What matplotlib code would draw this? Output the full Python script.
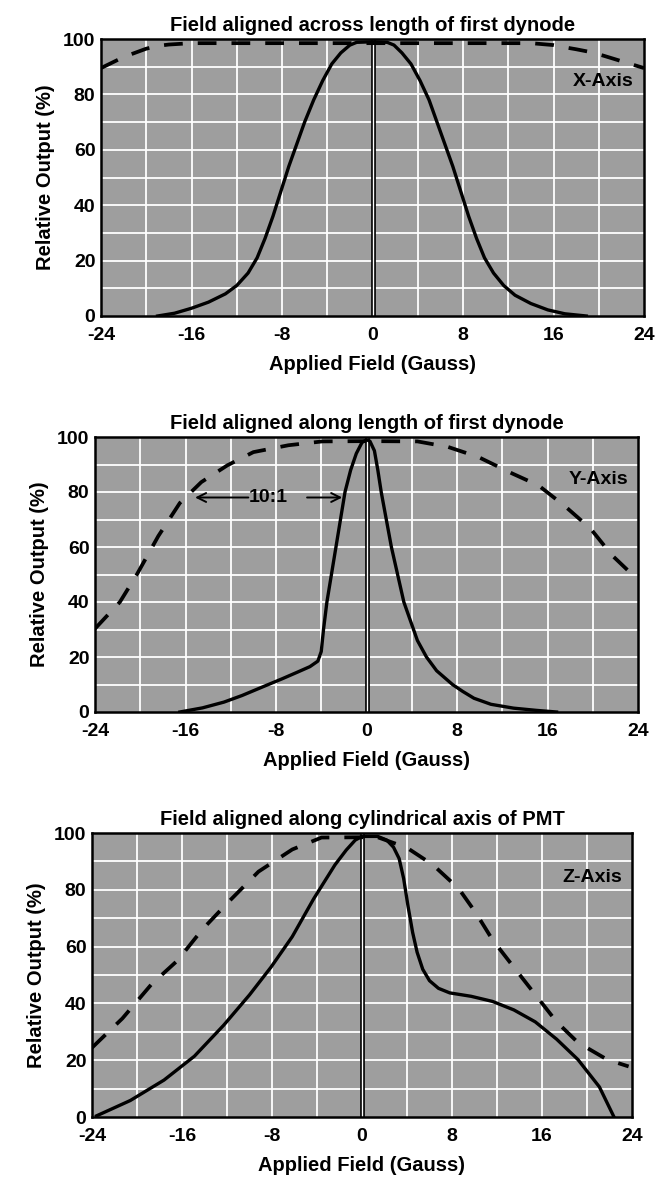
import matplotlib
matplotlib.use("Agg")
import matplotlib.pyplot as plt

plt.rcParams['font.family'] = ['Liberation Sans', 'DejaVu Sans']
plt.rcParams['font.weight'] = 'bold'
plt.rcParams['axes.titleweight'] = 'bold'
plt.rcParams['axes.labelweight'] = 'bold'

# ---------------- data ----------------
x_ticks = [-24, -16, -8, 0, 8, 16, 24]
y_ticks = [0, 20, 40, 60, 80, 100]

titles = ["Field aligned across length of first dynode",
          "Field aligned along length of first dynode",
          "Field aligned along cylindrical axis of PMT"]
axis_names = ["X-Axis", "Y-Axis", "Z-Axis"]

# Panel 1 (X-Axis)
x1_solid = [-19, -17.5, -16, -14.5, -13, -12, -11, -10.2, -9.5, -8.8, -8.1, -7.4, -6.7, -6.0,
            -5.2, -4.4, -3.6, -2.8, -2.0, -1.4, 0, 1.3, 1.9, 2.6, 3.4, 4.2, 5.0, 5.7, 6.4, 7.1,
            7.8, 8.5, 9.2, 9.9, 10.7, 11.6, 12.6, 14.0, 15.5, 17.0, 18.9]
y1_solid = [0, 1, 2.8, 5, 8, 11, 15.5, 21, 28, 36, 45, 54, 62, 70,
            78, 85, 91, 95, 97.8, 98.8, 99, 98.8, 97.8, 95, 91, 85, 78, 70, 62, 54,
            45, 36, 28, 21, 15.5, 11, 7.5, 4.5, 2.2, 0.8, 0]
x1_dash = [-24, -23, -22, -21, -20, -19, -18, -16, 0, 14, 16, 17, 18, 19, 20.4, 22, 24]
y1_dash = [89.5, 91.5, 93.5, 95, 96.5, 97.5, 98, 98.5, 98.5, 98.5, 97.8, 97, 96.3, 95.5, 94, 92, 89.5]

# Panel 2 (Y-Axis)
x2_solid = [-16.5, -14.5, -12.6, -11, -9.2, -7.5, -6.1, -5.0, -4.3, -4.0, -3.8, -3.5, -3.1, -2.7,
            -2.3, -1.9, -1.4, -0.9, -0.4, 0, 0.3, 0.7, 1.0, 1.3, 1.75, 2.2, 2.75, 3.3, 3.9, 4.5,
            5.3, 6.2, 7.6, 8.5, 9.5, 11, 13, 15, 16.8]
y2_solid = [0, 1.5, 3.6, 6, 9.1, 12, 14.5, 16.5, 18.5, 22, 30, 40, 50, 60,
            70, 80, 88, 94, 98, 99, 98.5, 95, 88, 80, 70, 60, 50, 40, 33, 26,
            20, 15, 10, 7.5, 5, 2.8, 1.4, 0.6, 0]
x2_dash = [-24, -21.8, -20.3, -18.4, -16.5, -14.6, -12.3, -10.0, -6.9, -3.9, 0, 4.5, 7.2, 9.9,
           12.9, 15.2, 17.5, 19.8, 21.7, 24]
y2_dash = [30.3, 40, 50, 64, 76, 83.6, 89.7, 94.5, 97, 98.4, 98.5, 98.4, 96.4, 92.7,
           86.7, 82.4, 75, 66.7, 57, 48]

# Panel 3 (Z-Axis)
x3_solid = [-23.6, -20.6, -17.6, -14.9, -12.3, -10, -8.1, -6.2, -4.3, -2.4, -1.4, -0.6, 0, 1.4,
            2.2, 2.8, 3.3, 3.7, 4.1, 4.5, 4.9, 5.4, 6.0, 6.8, 7.8, 9.7, 11.6, 13.5, 15.4, 17.3,
            19.2, 21.1, 22.4]
y3_solid = [0.4, 5.8, 13, 21.4, 32.3, 43, 52.7, 63.5, 76.8, 88.8, 94, 97.5, 98.8, 98.8,
            97.5, 95, 91, 84, 74, 65, 58, 52, 48, 45.3, 43.7, 42.5, 40.7, 37.7, 33.5, 27.4,
            20.2, 10.6, 0]
x3_dash = [-24, -21.3, -18.7, -16.4, -14.2, -11.9, -9.2, -6.2, -3.6, 0, 1.4, 4.0, 6.3, 8.6,
           10.1, 11.6, 13.5, 15.4, 17.3, 19.2, 21.8, 23.7]
y3_dash = [24.4, 34.7, 46.8, 55.1, 66, 75.6, 86.4, 94.2, 98.4, 98.5, 98.5, 94.8, 88.8, 80.4,
           72, 62.4, 52.7, 43.1, 33.5, 26.2, 20.2, 17.8]

# annotation (panel 2)
ratio_text = "10:1"
ratio_left, ratio_right, ratio_y = -15.4, -1.9, 78

# ---------------- figure ----------------
W, H = 671, 1180
fig = plt.figure(figsize=(W / 100, H / 100), dpi=100)
fig.patch.set_facecolor('white')

# axes boxes in pixels: left, right, top, bottom
boxes = [(101, 644, 39, 316), (95, 638, 437, 712), (92, 632, 833, 1117)]

solids = [(x1_solid, y1_solid), (x2_solid, y2_solid), (x3_solid, y3_solid)]
dashes = [(x1_dash, y1_dash), (x2_dash, y2_dash), (x3_dash, y3_dash)]

for i, (l, r, t, b) in enumerate(boxes):
    ax = fig.add_axes([l / W, 1 - b / H, (r - l) / W, (b - t) / H])
    ax.set_facecolor('#9e9e9e')
    ax.set_xlim(-24, 24)
    ax.set_ylim(0, 100)
    for gx in range(-20, 24, 4):
        ax.axvline(gx, color='white', lw=1.3, zorder=1)
    for gy in range(10, 100, 10):
        ax.axhline(gy, color='white', lw=1.3, zorder=1)
    ax.set_xticks(x_ticks)
    ax.set_yticks(y_ticks)
    ax.set_xticklabels([str(v) for v in x_ticks])
    ax.tick_params(axis='x', length=0, labelsize=14, pad=8)
    ax.tick_params(axis='y', length=0, labelsize=14, pad=4)
    for s in ax.spines.values():
        s.set_linewidth(1.8)
        s.set_color('black')
        s.set_zorder(6)
    # center double line
    ax.axvline(0, color='black', lw=3.4, zorder=3)
    ax.axvline(0, color='white', lw=1.0, zorder=3.1)
    xs, ys = solids[i]
    ax.plot(xs, ys, color='black', lw=2.4, solid_joinstyle='round', zorder=4)
    xd, yd = dashes[i]
    ax.plot(xd, yd, color='black', lw=2.7, dashes=(5, 4), zorder=4)
    ax.set_title(titles[i], fontsize=14.5, pad=6)
    ax.set_xlabel("Applied Field (Gauss)", fontsize=14.5, labelpad=8)
    ax.set_ylabel("Relative Output (%)", fontsize=14.5, labelpad=6)
    ax.text(23.1, 84.5, axis_names[i], fontsize=14, ha='right', va='center', zorder=5)
    if i == 1:
        ax.text((ratio_left + ratio_right) / 2, ratio_y, ratio_text, fontsize=14,
                ha='center', va='center', zorder=5)
        ax.annotate('', xy=(ratio_left, ratio_y), xytext=(-10.2, ratio_y),
                    arrowprops=dict(arrowstyle='->', lw=1.4, color='black',
                                    mutation_scale=16), zorder=5)
        ax.annotate('', xy=(ratio_right, ratio_y), xytext=(-5.5, ratio_y),
                    arrowprops=dict(arrowstyle='->', lw=1.4, color='black',
                                    mutation_scale=16), zorder=5)

fig.savefig('out.png', dpi=100, facecolor='white')
